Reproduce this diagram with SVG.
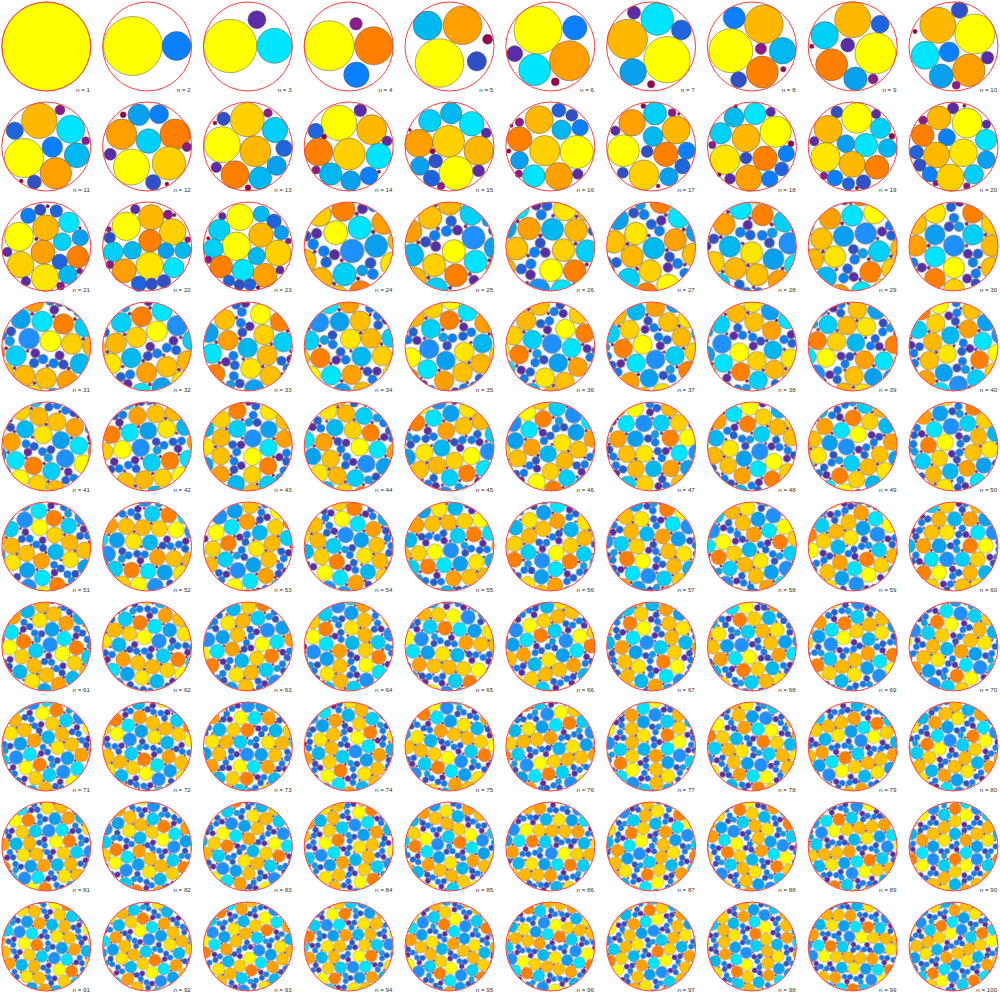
<svg xmlns="http://www.w3.org/2000/svg" xmlns:xlink="http://www.w3.org/1999/xlink" width="1000" height="1000" viewBox="0 0 1000 1000">
<style>
.y{fill:#ffff00}.yg{fill:#ffe600}.go{fill:#ffd000}.ga{fill:#ffb800}.or{fill:#ffa000}.do{fill:#ff8000}
.cy{fill:#00e5ff}.cs{fill:#00d0f8}.sk{fill:#00b8f0}.sb{fill:#0aa0f0}.bl{fill:#0a80ff}.rb{fill:#1e64dc}.ro{fill:#3050c8}.pu{fill:#5a2ca8}.pm{fill:#8b1a8b}.dm{fill:#990050}
.h circle{stroke:#555;stroke-width:.5}
.box{fill:none;stroke:#ff3b3b;stroke-width:1}
text{font-family:"Liberation Sans",Arial,sans-serif;font-size:6.2px;fill:#333;text-anchor:end}
</style>
<defs>
<g id="tile" stroke="#555" stroke-width=".05">
<circle cx="0" cy="0" r=".98" fill="#ffff00"/>
<circle cx="4" cy="0" r=".96" fill="#ffa000"/>
<circle cx="6" cy="0" r=".95" fill="#00e5ff"/>
<circle cx="1" cy="1.732" r=".97" fill="#ffd000"/>
<circle cx="3" cy="1.732" r=".94" fill="#00b8f0"/>
<circle cx="7" cy="1.732" r=".95" fill="#ff8000"/>
<circle cx="0" cy="3.464" r=".95" fill="#00d0f8"/>
<circle cx="2" cy="3.464" r=".97" fill="#ffb800"/>
<circle cx="4" cy="3.464" r=".98" fill="#ffe600"/>
<circle cx="3" cy="5.196" r=".98" fill="#ffc000"/>
<circle cx="5" cy="5.196" r=".93" fill="#0aa0f0"/>
<circle cx="7" cy="5.196" r=".96" fill="#1e90ff"/>
<circle cx="2" cy="-.53" r=".44" fill="#0a80ff"/>
<circle cx="2.459" cy=".265" r=".44" fill="#3050c8"/>
<circle cx="1.541" cy=".265" r=".42" fill="#5a2ca8"/>
<circle cx="5" cy="2.262" r=".44" fill="#1e64dc"/>
<circle cx="4.541" cy="1.467" r=".44" fill="#0a80ff"/>
<circle cx="5.459" cy="1.467" r=".42" fill="#5a2ca8"/>
<circle cx="6.53" cy="3.464" r=".44" fill="#0aa0f0"/>
<circle cx="5.735" cy="3.923" r=".44" fill="#3050c8"/>
<circle cx="5.735" cy="3.005" r=".44" fill="#0a80ff"/>
<circle cx="1.265" cy="5.655" r=".44" fill="#0a80ff"/>
<circle cx=".47" cy="5.196" r=".42" fill="#5a2ca8"/>
<circle cx="1.265" cy="4.737" r=".44" fill="#1e64dc"/>
<circle cx="3" cy=".577" r=".15" fill="#990050"/>
<circle cx="6" cy="1.155" r=".15" fill="#8b1a8b"/>
<circle cx="1" cy="2.887" r=".14" fill="#990050"/>
<circle cx="4" cy="2.309" r=".14" fill="#8b1a8b"/>
<circle cx="7" cy="2.887" r=".15" fill="#990050"/>
<circle cx="3" cy="4.041" r=".14" fill="#990050"/>
<circle cx="2" cy="5.773" r=".14" fill="#8b1a8b"/>
<circle cx="5" cy="6.351" r=".15" fill="#990050"/>
<circle cx="0" cy="4.619" r=".14" fill="#8b1a8b"/>
</g>
<pattern id="tp" patternUnits="userSpaceOnUse" width="8" height="6.928">
<use xlink:href="#tile" x="-8" y="-6.928"/><use xlink:href="#tile" x="0" y="-6.928"/><use xlink:href="#tile" x="8" y="-6.928"/>
<use xlink:href="#tile" x="-8" y="0"/><use xlink:href="#tile" x="0" y="0"/><use xlink:href="#tile" x="8" y="0"/>
<use xlink:href="#tile" x="-8" y="6.928"/><use xlink:href="#tile" x="0" y="6.928"/><use xlink:href="#tile" x="8" y="6.928"/>
</pattern>
<rect id="tex" x="-12" y="-12" width="32" height="32" fill="url(#tp)"/>
<clipPath id="disk"><circle r="44.2"/></clipPath>
</defs>
<rect width="1000" height="1000" fill="#fff"/>

<g id="n1" transform="translate(46.3,46.5)"><g class="h"><circle class="y" r="44.4"/></g><circle class="box" r="44.5"/><text x="43.7" y="45.2">n = 1</text></g>
<g id="n2" transform="translate(147.1,46.5)"><g class="h"><circle class="y" cx="-14.2" cy="-0.5" r="29.5"/><circle class="bl" cx="29.5" cy="-0.5" r="14.5"/></g><circle class="box" r="44.5"/><text x="43.7" y="45.2">n = 2</text></g>
<g id="n3" transform="translate(247.9,46.5)"><g class="h"><circle class="y" cx="-17.7" cy="-0.5" r="26.7"/><circle class="cy" cx="26.6" cy="-0.7" r="17.5"/><circle class="pu" cx="9" cy="-26.8" r="9"/></g><circle class="box" r="44.5"/><text x="43.7" y="45.2">n = 3</text></g>
<g id="n4" transform="translate(348.7,46.5)"><g class="h"><circle class="y" cx="-19.5" cy="-0.7" r="25"/><circle class="do" cx="25" cy="-0.7" r="19"/><circle class="bl" cx="7.7" cy="28.2" r="12.7"/><circle class="pm" cx="7.3" cy="-22.8" r="6.3"/></g><circle class="box" r="44.5"/><text x="43.7" y="45.2">n = 4</text></g>
<g id="n5" transform="translate(449.5,46.5)"><g class="h"><circle class="sk" cx="-21.9" cy="-21" r="14.5"/><circle class="or" cx="13" cy="-21.2" r="19.3"/><circle class="y" cx="-10" cy="16.5" r="24.3"/><circle class="ro" cx="27.3" cy="14.8" r="9.7"/><circle class="dm" cx="38.1" cy="-7.2" r="5"/></g><circle class="box" r="44.5"/><text x="43.7" y="45.2">n = 5</text></g>
<g id="n6" transform="translate(550.3,46.5)"><g class="h"><circle class="y" cx="-12.3" cy="-16.5" r="24"/><circle class="bl" cx="24.5" cy="-18.7" r="12.2"/><circle class="pu" cx="-35.6" cy="7.2" r="8"/><circle class="cy" cx="-15.6" cy="23.2" r="16"/><circle class="or" cx="19.2" cy="14.2" r="20"/><circle class="dm" cx="5" cy="35.3" r="4"/></g><circle class="box" r="44.5"/><text x="43.7" y="45.2">n = 6</text></g>
<g id="n7" transform="translate(651.1,46.5)"><g class="h"><circle class="pu" cx="-17.1" cy="-33.8" r="6.6"/><circle class="cy" cx="6.2" cy="-27.5" r="16.4"/><circle class="rb" cx="30.2" cy="-16.5" r="10"/><circle class="ga" cx="-23.6" cy="-7.3" r="20"/><circle class="y" cx="16" cy="13.2" r="23.2"/><circle class="sb" cx="-18" cy="25.5" r="13.3"/><circle class="dm" cx="0" cy="37.8" r="3.7"/></g><circle class="box" r="44.5"/><text x="43.7" y="45.2">n = 7</text></g>
<g id="n8" transform="translate(751.9,46.5)"><g class="h"><circle class="bl" cx="-17.6" cy="-28.8" r="11"/><circle class="ga" cx="12" cy="-22.2" r="19.3"/><circle class="y" cx="-21" cy="4.2" r="22"/><circle class="pm" cx="9" cy="2.2" r="5.7"/><circle class="sk" cx="30.7" cy="4.2" r="13.3"/><circle class="do" cx="10.4" cy="25.5" r="16"/><circle class="ro" cx="-13.3" cy="33.2" r="8"/><circle class="dm" cx="31.4" cy="22.8" r="2.7"/></g><circle class="box" r="44.5"/><text x="43.7" y="45.2">n = 8</text></g>
<g id="n9" transform="translate(852.7,46.5)"><g class="h"><circle class="ga" cx="0" cy="-26.8" r="18"/><circle class="rb" cx="27.4" cy="-22.3" r="9"/><circle class="cs" cx="-28" cy="-11.2" r="13.7"/><circle class="pu" cx="-5" cy="-1.5" r="7"/><circle class="y" cx="22.7" cy="6.8" r="20.5"/><circle class="dm" cx="-41" cy="-0.2" r="2.3"/><circle class="do" cx="-21" cy="18.2" r="16"/><circle class="sb" cx="2.7" cy="32.2" r="11.7"/><circle class="pm" cx="20.4" cy="32.5" r="5"/></g><circle class="box" r="44.5"/><text x="43.7" y="45.2">n = 9</text></g>
<g id="n10" transform="translate(953.5,46.5)"><g class="h"><circle class="ro" cx="6" cy="-36.5" r="8.3"/><circle class="ga" cx="-15.7" cy="-21.2" r="18"/><circle class="y" cx="21.3" cy="-12.5" r="20"/><circle class="dm" cx="-38.5" cy="-15" r="2.2"/><circle class="cy" cx="-28.3" cy="8.8" r="14"/><circle class="bl" cx="-4.3" cy="5.5" r="10"/><circle class="pu" cx="34" cy="11.2" r="6.3"/><circle class="sb" cx="-12.3" cy="29.5" r="12"/><circle class="or" cx="15.3" cy="23.8" r="16.3"/><circle class="pm" cx="2.7" cy="38.8" r="4"/></g><circle class="box" r="44.5"/><text x="43.7" y="45.2">n = 10</text></g>

<g id="n11" transform="translate(46.3,146.5)"><g class="h"><circle class="pm" cx="13.7" cy="-36.5" r="5"/><circle class="ga" cx="-7" cy="-25.7" r="17.7"/><circle class="rb" cx="-31.6" cy="-15.8" r="8.7"/><circle class="cy" cx="24.4" cy="-17.2" r="14"/><circle class="pm" cx="39.4" cy="-5.8" r="4"/><circle class="y" cx="-22.3" cy="11.5" r="19.5"/><circle class="bl" cx="6" cy="0.5" r="10.3"/><circle class="sk" cx="30.5" cy="8.7" r="12.5"/><circle class="or" cx="9.5" cy="26.7" r="15.8"/><circle class="ro" cx="-12" cy="35.5" r="7"/><circle class="dm" cx="-25" cy="34.5" r="2"/></g><circle class="box" r="44.5"/><text x="43.7" y="45.2">n = 11</text></g>
<g id="n12" transform="translate(147.1,146.5)"><g class="h"><circle class="dm" cx="-23.9" cy="-31.8" r="3"/><circle class="sb" cx="-8.4" cy="-31.7" r="10.8"/><circle class="bl" cx="11.9" cy="-32.3" r="9.5"/><circle class="or" cx="-25.6" cy="-12.2" r="15.3"/><circle class="do" cx="28.1" cy="-12.2" r="15.3"/><circle class="cs" cx="1.4" cy="-5.5" r="12.3"/><circle class="pm" cx="39.8" cy="0.5" r="4.7"/><circle class="pu" cx="-36.9" cy="7.8" r="6"/><circle class="y" cx="-15.6" cy="20.5" r="18"/><circle class="go" cx="21.8" cy="16.8" r="16.7"/><circle class="ro" cx="6.1" cy="35.8" r="7.7"/><circle class="dm" cx="19.8" cy="37.5" r="2"/></g><circle class="box" r="44.5"/><text x="43.7" y="45.2">n = 12</text></g>
<g id="n13" transform="translate(247.9,146.5)"><g class="h"><circle class="ro" cx="-24.3" cy="-27.8" r="6.7"/><circle class="dm" cx="-32.9" cy="-23.5" r="2"/><circle class="go" cx="-0.6" cy="-26.8" r="17"/><circle class="pm" cx="20.1" cy="-33.5" r="4.3"/><circle class="cs" cx="27.1" cy="-16.5" r="12.7"/><circle class="y" cx="-25.6" cy="-1.8" r="18"/><circle class="ga" cx="7.4" cy="4.8" r="15.5"/><circle class="rb" cx="36.1" cy="1.8" r="8.3"/><circle class="pu" cx="-31.6" cy="20.8" r="5.3"/><circle class="do" cx="-12.9" cy="28.2" r="14"/><circle class="sb" cx="28.7" cy="19.2" r="9.7"/><circle class="sk" cx="12.4" cy="31.5" r="11.3"/><circle class="dm" cx="0.1" cy="41.2" r="3"/></g><circle class="box" r="44.5"/><text x="43.7" y="45.2">n = 13</text></g>
<g id="n14" transform="translate(348.7,146.5)"><g class="h"><circle class="y" cx="-9.7" cy="-23.5" r="17.7"/><circle class="pu" cx="11.6" cy="-36.2" r="6.3"/><circle class="ga" cx="23" cy="-16.8" r="15"/><circle class="rb" cx="-33" cy="-15.5" r="7.7"/><circle class="dm" cx="-24.7" cy="-9.8" r="2.7"/><circle class="pu" cx="38.3" cy="-5.5" r="5"/><circle class="do" cx="-30" cy="5.5" r="14"/><circle class="go" cx="0.6" cy="7.5" r="16"/><circle class="cy" cx="30" cy="9.5" r="12.7"/><circle class="pm" cx="-32.7" cy="23.5" r="4"/><circle class="sk" cx="-18" cy="27.5" r="11.3"/><circle class="sb" cx="2" cy="34.2" r="10"/><circle class="bl" cx="20.3" cy="29.2" r="9"/><circle class="dm" cx="30.3" cy="25.2" r="1.7"/></g><circle class="box" r="44.5"/><text x="43.7" y="45.2">n = 14</text></g>
<g id="n15" transform="translate(449.5,146.5)"><g class="h"><circle class="cs" cx="-19.6" cy="-25.8" r="11.3"/><circle class="sk" cx="1.7" cy="-33.2" r="10.7"/><circle class="cy" cx="22.1" cy="-22.8" r="12.3"/><circle class="dm" cx="-39.6" cy="-16.5" r="1.5"/><circle class="pu" cx="36.7" cy="-13.5" r="5"/><circle class="or" cx="-30.6" cy="-3.2" r="14"/><circle class="go" cx="-0.9" cy="-5.2" r="16"/><circle class="ga" cx="29.1" cy="4.2" r="14.7"/><circle class="dm" cx="-16.9" cy="4.8" r="2.7"/><circle class="ro" cx="-13.9" cy="14.5" r="7"/><circle class="sb" cx="-29.6" cy="19.5" r="9.3"/><circle class="rb" cx="-17.9" cy="31.8" r="8.3"/><circle class="y" cx="6.7" cy="26.5" r="17"/><circle class="pu" cx="29.1" cy="24.2" r="6"/><circle class="pm" cx="-8.5" cy="39.5" r="3.8"/></g><circle class="box" r="44.5"/><text x="43.7" y="45.2">n = 15</text></g>
<g id="n16" transform="translate(550.3,146.5)"><g class="h"><circle class="ga" cx="-11.2" cy="-26.8" r="14"/><circle class="rb" cx="8.5" cy="-36.2" r="7"/><circle class="ro" cx="21.5" cy="-31.2" r="6"/><circle class="pm" cx="-30.8" cy="-24.2" r="4.3"/><circle class="dm" cx="-38.8" cy="-20.8" r="1.7"/><circle class="sk" cx="11.2" cy="-16.8" r="9.7"/><circle class="bl" cx="29.8" cy="-18.8" r="8.3"/><circle class="do" cx="-30.8" cy="-7.5" r="12.3"/><circle class="go" cx="-5.5" cy="4.2" r="15.2"/><circle class="y" cx="26.5" cy="5.5" r="16.5"/><circle class="dm" cx="-41.5" cy="4.5" r="2.3"/><circle class="sb" cx="-30.8" cy="13.8" r="9"/><circle class="pm" cx="-31.5" cy="27.2" r="3.7"/><circle class="cy" cx="-16.5" cy="29.5" r="11.3"/><circle class="or" cx="8.5" cy="29.8" r="13.7"/><circle class="pu" cx="27.5" cy="27.5" r="5.3"/></g><circle class="box" r="44.5"/><text x="43.7" y="45.2">n = 16</text></g>
<g id="n17" transform="translate(651.1,146.5)"><g class="h"><circle class="dm" cx="-7.7" cy="-40.5" r="2.5"/><circle class="or" cx="-19" cy="-23.8" r="13.3"/><circle class="pu" cx="-35.7" cy="-15.8" r="4.7"/><circle class="y" cx="-27.7" cy="4.2" r="16"/><circle class="ro" cx="-28.3" cy="26.2" r="5.5"/><circle class="go" cx="-7.2" cy="28.5" r="15"/><circle class="dm" cx="7" cy="39.5" r="2"/><circle class="cs" cx="4" cy="-33" r="11.5"/><circle class="pm" cx="21" cy="-33.8" r="4"/><circle class="dm" cx="27.7" cy="-32.5" r="1.3"/><circle class="ga" cx="25" cy="-16.5" r="14"/><circle class="sk" cx="2" cy="-10" r="10"/><circle class="do" cx="14.7" cy="7.8" r="12.3"/><circle class="bl" cx="35.7" cy="4.2" r="8.7"/><circle class="rb" cx="31.3" cy="19.8" r="7.7"/><circle class="sb" cx="17.7" cy="30.2" r="9.3"/><circle class="ro" cx="-4" cy="5" r="6"/></g><circle class="box" r="44.5"/><text x="43.7" y="45.2">n = 17</text></g>
<g id="n18" transform="translate(751.9,146.5)"><g class="h"><circle class="dm" cx="-16.2" cy="-40.2" r="1.7"/><circle class="sk" cx="-17.9" cy="-29.2" r="10"/><circle class="cy" cx="3.1" cy="-32.8" r="11"/><circle class="pu" cx="18.8" cy="-34.5" r="4.7"/><circle class="cs" cx="-31.2" cy="-13.2" r="10.7"/><circle class="ga" cx="-5.9" cy="-8.5" r="14"/><circle class="y" cx="23.8" cy="-14.8" r="15.7"/><circle class="pm" cx="-39.6" cy="-1.5" r="3.7"/><circle class="dm" cx="39.1" cy="-2.8" r="3"/><circle class="yg" cx="-26.9" cy="13.2" r="15"/><circle class="ro" cx="-5.9" cy="11.5" r="6"/><circle class="do" cx="13.1" cy="11.8" r="12.3"/><circle class="bl" cx="34.4" cy="7.2" r="8.3"/><circle class="rb" cx="29.8" cy="22.5" r="7"/><circle class="dm" cx="-32.6" cy="28.2" r="2"/><circle class="pu" cx="-21.9" cy="32.2" r="5.3"/><circle class="or" cx="-3.2" cy="31.5" r="13.3"/><circle class="bl" cx="17.8" cy="32.5" r="8.3"/></g><circle class="box" r="44.5"/><text x="43.7" y="45.2">n = 18</text></g>
<g id="n19" transform="translate(852.7,146.5)"><g class="h"><circle class="ro" cx="-15.8" cy="-34.5" r="6"/><circle class="y" cx="4.2" cy="-28.5" r="15.3"/><circle class="pu" cx="23.5" cy="-32.5" r="4.7"/><circle class="ga" cx="-24.5" cy="-17.2" r="14"/><circle class="cs" cx="27.8" cy="-18.2" r="10.3"/><circle class="dm" cx="39.2" cy="-10.2" r="3"/><circle class="pu" cx="-38.5" cy="-5.2" r="4.7"/><circle class="sb" cx="-6.8" cy="-2.8" r="9"/><circle class="cy" cx="13.2" cy="-1.5" r="11.7"/><circle class="sk" cx="34.8" cy="1.5" r="9.3"/><circle class="yg" cx="-27.2" cy="10.8" r="14.7"/><circle class="ga" cx="-0.5" cy="17.8" r="13"/><circle class="do" cx="24.2" cy="20.8" r="12"/><circle class="pm" cx="-28.8" cy="29.2" r="3.7"/><circle class="bl" cx="-17.8" cy="31.5" r="8"/><circle class="rb" cx="-4.2" cy="37.2" r="6.3"/><circle class="ro" cx="10.8" cy="35.5" r="7.3"/><circle class="dm" cx="4.2" cy="41.5" r="1.8"/></g><circle class="box" r="44.5"/><text x="43.7" y="45.2">n = 19</text></g>
<g id="n20" transform="translate(953.5,146.5)"><g class="h"><circle class="pu" cx="-0.4" cy="-38.2" r="5.7"/><circle class="dm" cx="10.9" cy="-40.8" r="1.7"/><circle class="ga" cx="-14.4" cy="-28.5" r="12"/><circle class="pm" cx="-30.4" cy="-26.2" r="4.3"/><circle class="y" cx="13.6" cy="-23.5" r="15"/><circle class="pu" cx="32.9" cy="-22.2" r="4.3"/><circle class="do" cx="-30.7" cy="-11.2" r="11.3"/><circle class="bl" cx="-6.7" cy="-9.2" r="8.7"/><circle class="cy" cx="32.6" cy="-6.5" r="10.7"/><circle class="rb" cx="-37.1" cy="5.8" r="7"/><circle class="ga" cx="-17.1" cy="8.5" r="13"/><circle class="yg" cx="9.9" cy="6.2" r="14"/><circle class="sb" cx="32.9" cy="13.2" r="9"/><circle class="ro" cx="-33.7" cy="18.5" r="6.3"/><circle class="bl" cx="-23.7" cy="27.8" r="7.7"/><circle class="pm" cx="-17.7" cy="36.5" r="3"/><circle class="go" cx="-3.1" cy="31.2" r="13.7"/><circle class="cs" cx="20.3" cy="27.8" r="9.7"/><circle class="pm" cx="13.3" cy="39.5" r="3.3"/></g><circle class="box" r="44.5"/><text x="43.7" y="45.2">n = 20</text></g>

<g id="n21" transform="translate(46.3,246.5)"><g class="h"><circle class="bl" cx="-18" cy="-30.8" r="7.7"/><circle class="ro" cx="-6" cy="-36.8" r="5.7"/><circle class="dm" cx="1.4" cy="-40.2" r="1.7"/><circle class="rb" cx="10" cy="-35.5" r="6.3"/><circle class="cy" cx="22.7" cy="-24.2" r="10.3"/><circle class="ga" cx="-0.6" cy="-18.8" r="13"/><circle class="y" cx="-27.3" cy="-9.8" r="14.5"/><circle class="dm" cx="-10" cy="-7.5" r="1.7"/><circle class="dm" cx="33.7" cy="-18.5" r="1.3"/><circle class="cs" cx="16" cy="-4.8" r="9"/><circle class="sb" cx="34" cy="-8.8" r="8.3"/><circle class="or" cx="-3.3" cy="5.5" r="12"/><circle class="pu" cx="-39" cy="5.5" r="4.7"/><circle class="do" cx="31.4" cy="10.5" r="11"/><circle class="rb" cx="13.4" cy="15.2" r="7.7"/><circle class="go" cx="-25.6" cy="18.2" r="13.3"/><circle class="yg" cx="-1.3" cy="31.2" r="13.7"/><circle class="sk" cx="21.7" cy="28.2" r="9.3"/><circle class="pm" cx="33.4" cy="24.5" r="3"/><circle class="pu" cx="-20.3" cy="34.8" r="4.7"/><circle class="pm" cx="14.4" cy="39.5" r="4"/></g><circle class="box" r="44.5"/><text x="43.7" y="45.2">n = 21</text></g>
<g id="n22" transform="translate(147.1,246.5)"><g class="h"><circle class="pu" cx="-11.8" cy="-37.2" r="4.7"/><circle class="ga" cx="4.2" cy="-29.2" r="12.7"/><circle class="pm" cx="20.9" cy="-31.8" r="4.7"/><circle class="dm" cx="27.2" cy="-31.5" r="1.7"/><circle class="y" cx="-20.8" cy="-20.2" r="14.3"/><circle class="go" cx="25.6" cy="-14.5" r="13.3"/><circle class="do" cx="2.9" cy="-5.8" r="11.3"/><circle class="pm" cx="-38.4" cy="-17.2" r="2.7"/><circle class="ro" cx="-37.4" cy="-8.8" r="5.7"/><circle class="pm" cx="40.6" cy="-6.8" r="3"/><circle class="cs" cx="-33.8" cy="5.5" r="10"/><circle class="sk" cx="-14.8" cy="3.8" r="9"/><circle class="sb" cx="18.9" cy="4.2" r="8"/><circle class="sk" cx="35.9" cy="3.8" r="8.3"/><circle class="yg" cx="2.6" cy="19.2" r="13.7"/><circle class="pm" cx="-37.1" cy="18.2" r="4"/><circle class="or" cx="-22.8" cy="24.2" r="12"/><circle class="cy" cx="26.6" cy="21.2" r="10.3"/><circle class="rb" cx="-8.1" cy="37.2" r="7.7"/><circle class="ro" cx="4.6" cy="37.5" r="6"/><circle class="ro" cx="16.9" cy="34.8" r="6.7"/></g><circle class="box" r="44.5"/><text x="43.7" y="45.2">n = 22</text></g>
<g id="n23" transform="translate(247.9,246.5)"><g class="h"><circle class="pu" cx="-25.6" cy="-30.2" r="3.7"/><circle class="y" cx="-7.9" cy="-29.2" r="13.3"/><circle class="sk" cx="13.4" cy="-32.5" r="8"/><circle class="rb" cx="26.1" cy="-25.2" r="7.3"/><circle class="cs" cx="-28.6" cy="-16.5" r="10.7"/><circle class="ga" cx="13.1" cy="-11.5" r="12.3"/><circle class="sb" cx="33.4" cy="-13.8" r="7.3"/><circle class="pm" cx="40.4" cy="-5.5" r="3"/><circle class="dm" cx="-39.6" cy="-8.2" r="1.7"/><circle class="y" cx="-11.6" cy="-0.2" r="14.3"/><circle class="cs" cx="-34.6" cy="2.2" r="10"/><circle class="sk" cx="8.8" cy="9.5" r="8.7"/><circle class="go" cx="30.1" cy="6.5" r="13"/><circle class="pm" cx="-39.6" cy="13.2" r="3.7"/><circle class="do" cx="-26.6" cy="20.2" r="11.3"/><circle class="cy" cx="-4.9" cy="23.8" r="11"/><circle class="or" cx="17.1" cy="28.8" r="12"/><circle class="pu" cx="32.1" cy="23.5" r="4"/><circle class="rb" cx="-18.9" cy="34.2" r="5.8"/><circle class="ro" cx="-8.6" cy="38.2" r="5.3"/><circle class="rb" cx="2.1" cy="38" r="6"/><circle class="dm" cx="10.1" cy="41" r="2"/></g><circle class="box" r="44.5"/><text x="43.7" y="45.2">n = 23</text></g>

<g id="n24" transform="translate(348.7,246.5)"><g clip-path="url(#disk)"><use xlink:href="#tex" transform="rotate(168) scale(12.25) translate(-7.2,-5.61)"/></g><circle class="box" r="44.5"/><text x="43.7" y="45.2">n = 24</text></g>
<g id="n25" transform="translate(449.5,246.5)"><g clip-path="url(#disk)"><use xlink:href="#tex" transform="rotate(205) scale(12,-12) translate(-0.5,-6.71)"/></g><circle class="box" r="44.5"/><text x="43.7" y="45.2">n = 25</text></g>
<g id="n26" transform="translate(550.3,246.5)"><g clip-path="url(#disk)"><use xlink:href="#tex" transform="rotate(242) scale(11.77) translate(-1.8,-0.88)"/></g><circle class="box" r="44.5"/><text x="43.7" y="45.2">n = 26</text></g>
<g id="n27" transform="translate(651.1,246.5)"><g clip-path="url(#disk)"><use xlink:href="#tex" transform="rotate(279) scale(11.55,-11.55) translate(-3.1,-1.98)"/></g><circle class="box" r="44.5"/><text x="43.7" y="45.2">n = 27</text></g>
<g id="n28" transform="translate(751.9,246.5)"><g clip-path="url(#disk)"><use xlink:href="#tex" transform="rotate(316) scale(11.34) translate(-4.4,-3.08)"/></g><circle class="box" r="44.5"/><text x="43.7" y="45.2">n = 28</text></g>
<g id="n29" transform="translate(852.7,246.5)"><g clip-path="url(#disk)"><use xlink:href="#tex" transform="rotate(353) scale(11.14,-11.14) translate(-5.7,-4.18)"/></g><circle class="box" r="44.5"/><text x="43.7" y="45.2">n = 29</text></g>
<g id="n30" transform="translate(953.5,246.5)"><g clip-path="url(#disk)"><use xlink:href="#tex" transform="rotate(30) scale(10.95) translate(-7,-5.28)"/></g><circle class="box" r="44.5"/><text x="43.7" y="45.2">n = 30</text></g>

<g id="n31" transform="translate(46.3,346.5)"><g clip-path="url(#disk)"><use xlink:href="#tex" transform="rotate(67) scale(10.78,-10.78) translate(-0.3,-6.38)"/></g><circle class="box" r="44.5"/><text x="43.7" y="45.2">n = 31</text></g>
<g id="n32" transform="translate(147.1,346.5)"><g clip-path="url(#disk)"><use xlink:href="#tex" transform="rotate(104) scale(10.61) translate(-1.6,-0.55)"/></g><circle class="box" r="44.5"/><text x="43.7" y="45.2">n = 32</text></g>
<g id="n33" transform="translate(247.9,346.5)"><g clip-path="url(#disk)"><use xlink:href="#tex" transform="rotate(141) scale(10.44,-10.44) translate(-2.9,-1.65)"/></g><circle class="box" r="44.5"/><text x="43.7" y="45.2">n = 33</text></g>
<g id="n34" transform="translate(348.7,346.5)"><g clip-path="url(#disk)"><use xlink:href="#tex" transform="rotate(178) scale(10.29) translate(-4.2,-2.75)"/></g><circle class="box" r="44.5"/><text x="43.7" y="45.2">n = 34</text></g>
<g id="n35" transform="translate(449.5,346.5)"><g clip-path="url(#disk)"><use xlink:href="#tex" transform="rotate(215) scale(10.14,-10.14) translate(-5.5,-3.85)"/></g><circle class="box" r="44.5"/><text x="43.7" y="45.2">n = 35</text></g>
<g id="n36" transform="translate(550.3,346.5)"><g clip-path="url(#disk)"><use xlink:href="#tex" transform="rotate(252) scale(10) translate(-6.8,-4.95)"/></g><circle class="box" r="44.5"/><text x="43.7" y="45.2">n = 36</text></g>
<g id="n37" transform="translate(651.1,346.5)"><g clip-path="url(#disk)"><use xlink:href="#tex" transform="rotate(289) scale(9.86,-9.86) translate(-0.1,-6.05)"/></g><circle class="box" r="44.5"/><text x="43.7" y="45.2">n = 37</text></g>
<g id="n38" transform="translate(751.9,346.5)"><g clip-path="url(#disk)"><use xlink:href="#tex" transform="rotate(326) scale(9.73) translate(-1.4,-0.22)"/></g><circle class="box" r="44.5"/><text x="43.7" y="45.2">n = 38</text></g>
<g id="n39" transform="translate(852.7,346.5)"><g clip-path="url(#disk)"><use xlink:href="#tex" transform="rotate(3) scale(9.61,-9.61) translate(-2.7,-1.32)"/></g><circle class="box" r="44.5"/><text x="43.7" y="45.2">n = 39</text></g>
<g id="n40" transform="translate(953.5,346.5)"><g clip-path="url(#disk)"><use xlink:href="#tex" transform="rotate(40) scale(9.49) translate(-4,-2.42)"/></g><circle class="box" r="44.5"/><text x="43.7" y="45.2">n = 40</text></g>

<g id="n41" transform="translate(46.3,446.5)"><g clip-path="url(#disk)"><use xlink:href="#tex" transform="rotate(77) scale(9.37,-9.37) translate(-5.3,-3.52)"/></g><circle class="box" r="44.5"/><text x="43.7" y="45.2">n = 41</text></g>
<g id="n42" transform="translate(147.1,446.5)"><g clip-path="url(#disk)"><use xlink:href="#tex" transform="rotate(114) scale(9.26) translate(-6.6,-4.62)"/></g><circle class="box" r="44.5"/><text x="43.7" y="45.2">n = 42</text></g>
<g id="n43" transform="translate(247.9,446.5)"><g clip-path="url(#disk)"><use xlink:href="#tex" transform="rotate(151) scale(9.15,-9.15) translate(-7.9,-5.72)"/></g><circle class="box" r="44.5"/><text x="43.7" y="45.2">n = 43</text></g>
<g id="n44" transform="translate(348.7,446.5)"><g clip-path="url(#disk)"><use xlink:href="#tex" transform="rotate(188) scale(9.05) translate(-1.2,-6.82)"/></g><circle class="box" r="44.5"/><text x="43.7" y="45.2">n = 44</text></g>
<g id="n45" transform="translate(449.5,446.5)"><g clip-path="url(#disk)"><use xlink:href="#tex" transform="rotate(225) scale(8.94,-8.94) translate(-2.5,-0.99)"/></g><circle class="box" r="44.5"/><text x="43.7" y="45.2">n = 45</text></g>
<g id="n46" transform="translate(550.3,446.5)"><g clip-path="url(#disk)"><use xlink:href="#tex" transform="rotate(262) scale(8.85) translate(-3.8,-2.09)"/></g><circle class="box" r="44.5"/><text x="43.7" y="45.2">n = 46</text></g>
<g id="n47" transform="translate(651.1,446.5)"><g clip-path="url(#disk)"><use xlink:href="#tex" transform="rotate(299) scale(8.75,-8.75) translate(-5.1,-3.19)"/></g><circle class="box" r="44.5"/><text x="43.7" y="45.2">n = 47</text></g>
<g id="n48" transform="translate(751.9,446.5)"><g clip-path="url(#disk)"><use xlink:href="#tex" transform="rotate(336) scale(8.66) translate(-6.4,-4.29)"/></g><circle class="box" r="44.5"/><text x="43.7" y="45.2">n = 48</text></g>
<g id="n49" transform="translate(852.7,446.5)"><g clip-path="url(#disk)"><use xlink:href="#tex" transform="rotate(13) scale(8.57,-8.57) translate(-7.7,-5.39)"/></g><circle class="box" r="44.5"/><text x="43.7" y="45.2">n = 49</text></g>
<g id="n50" transform="translate(953.5,446.5)"><g clip-path="url(#disk)"><use xlink:href="#tex" transform="rotate(50) scale(8.49) translate(-1,-6.49)"/></g><circle class="box" r="44.5"/><text x="43.7" y="45.2">n = 50</text></g>

<g id="n51" transform="translate(46.3,546.5)"><g clip-path="url(#disk)"><use xlink:href="#tex" transform="rotate(87) scale(8.4,-8.4) translate(-2.3,-0.66)"/></g><circle class="box" r="44.5"/><text x="43.7" y="45.2">n = 51</text></g>
<g id="n52" transform="translate(147.1,546.5)"><g clip-path="url(#disk)"><use xlink:href="#tex" transform="rotate(124) scale(8.32) translate(-3.6,-1.76)"/></g><circle class="box" r="44.5"/><text x="43.7" y="45.2">n = 52</text></g>
<g id="n53" transform="translate(247.9,546.5)"><g clip-path="url(#disk)"><use xlink:href="#tex" transform="rotate(161) scale(8.24,-8.24) translate(-4.9,-2.86)"/></g><circle class="box" r="44.5"/><text x="43.7" y="45.2">n = 53</text></g>
<g id="n54" transform="translate(348.7,546.5)"><g clip-path="url(#disk)"><use xlink:href="#tex" transform="rotate(198) scale(8.16) translate(-6.2,-3.96)"/></g><circle class="box" r="44.5"/><text x="43.7" y="45.2">n = 54</text></g>
<g id="n55" transform="translate(449.5,546.5)"><g clip-path="url(#disk)"><use xlink:href="#tex" transform="rotate(235) scale(8.09,-8.09) translate(-7.5,-5.06)"/></g><circle class="box" r="44.5"/><text x="43.7" y="45.2">n = 55</text></g>
<g id="n56" transform="translate(550.3,546.5)"><g clip-path="url(#disk)"><use xlink:href="#tex" transform="rotate(272) scale(8.02) translate(-0.8,-6.16)"/></g><circle class="box" r="44.5"/><text x="43.7" y="45.2">n = 56</text></g>
<g id="n57" transform="translate(651.1,546.5)"><g clip-path="url(#disk)"><use xlink:href="#tex" transform="rotate(309) scale(7.95,-7.95) translate(-2.1,-0.33)"/></g><circle class="box" r="44.5"/><text x="43.7" y="45.2">n = 57</text></g>
<g id="n58" transform="translate(751.9,546.5)"><g clip-path="url(#disk)"><use xlink:href="#tex" transform="rotate(346) scale(7.88) translate(-3.4,-1.43)"/></g><circle class="box" r="44.5"/><text x="43.7" y="45.2">n = 58</text></g>
<g id="n59" transform="translate(852.7,546.5)"><g clip-path="url(#disk)"><use xlink:href="#tex" transform="rotate(23) scale(7.81,-7.81) translate(-4.7,-2.53)"/></g><circle class="box" r="44.5"/><text x="43.7" y="45.2">n = 59</text></g>
<g id="n60" transform="translate(953.5,546.5)"><g clip-path="url(#disk)"><use xlink:href="#tex" transform="rotate(60) scale(7.75) translate(-6,-3.63)"/></g><circle class="box" r="44.5"/><text x="43.7" y="45.2">n = 60</text></g>

<g id="n61" transform="translate(46.3,646.5)"><g clip-path="url(#disk)"><use xlink:href="#tex" transform="rotate(97) scale(7.68,-7.68) translate(-7.3,-4.73)"/></g><circle class="box" r="44.5"/><text x="43.7" y="45.2">n = 61</text></g>
<g id="n62" transform="translate(147.1,646.5)"><g clip-path="url(#disk)"><use xlink:href="#tex" transform="rotate(134) scale(7.62) translate(-0.6,-5.83)"/></g><circle class="box" r="44.5"/><text x="43.7" y="45.2">n = 62</text></g>
<g id="n63" transform="translate(247.9,646.5)"><g clip-path="url(#disk)"><use xlink:href="#tex" transform="rotate(171) scale(7.56,-7.56) translate(-1.9,0)"/></g><circle class="box" r="44.5"/><text x="43.7" y="45.2">n = 63</text></g>
<g id="n64" transform="translate(348.7,646.5)"><g clip-path="url(#disk)"><use xlink:href="#tex" transform="rotate(208) scale(7.5) translate(-3.2,-1.1)"/></g><circle class="box" r="44.5"/><text x="43.7" y="45.2">n = 64</text></g>
<g id="n65" transform="translate(449.5,646.5)"><g clip-path="url(#disk)"><use xlink:href="#tex" transform="rotate(245) scale(7.44,-7.44) translate(-4.5,-2.2)"/></g><circle class="box" r="44.5"/><text x="43.7" y="45.2">n = 65</text></g>
<g id="n66" transform="translate(550.3,646.5)"><g clip-path="url(#disk)"><use xlink:href="#tex" transform="rotate(282) scale(7.39) translate(-5.8,-3.3)"/></g><circle class="box" r="44.5"/><text x="43.7" y="45.2">n = 66</text></g>
<g id="n67" transform="translate(651.1,646.5)"><g clip-path="url(#disk)"><use xlink:href="#tex" transform="rotate(319) scale(7.33,-7.33) translate(-7.1,-4.4)"/></g><circle class="box" r="44.5"/><text x="43.7" y="45.2">n = 67</text></g>
<g id="n68" transform="translate(751.9,646.5)"><g clip-path="url(#disk)"><use xlink:href="#tex" transform="rotate(356) scale(7.28) translate(-0.4,-5.5)"/></g><circle class="box" r="44.5"/><text x="43.7" y="45.2">n = 68</text></g>
<g id="n69" transform="translate(852.7,646.5)"><g clip-path="url(#disk)"><use xlink:href="#tex" transform="rotate(33) scale(7.22,-7.22) translate(-1.7,-6.6)"/></g><circle class="box" r="44.5"/><text x="43.7" y="45.2">n = 69</text></g>
<g id="n70" transform="translate(953.5,646.5)"><g clip-path="url(#disk)"><use xlink:href="#tex" transform="rotate(70) scale(7.17) translate(-3,-0.77)"/></g><circle class="box" r="44.5"/><text x="43.7" y="45.2">n = 70</text></g>

<g id="n71" transform="translate(46.3,746.5)"><g clip-path="url(#disk)"><use xlink:href="#tex" transform="rotate(107) scale(7.12,-7.12) translate(-4.3,-1.87)"/></g><circle class="box" r="44.5"/><text x="43.7" y="45.2">n = 71</text></g>
<g id="n72" transform="translate(147.1,746.5)"><g clip-path="url(#disk)"><use xlink:href="#tex" transform="rotate(144) scale(7.07) translate(-5.6,-2.97)"/></g><circle class="box" r="44.5"/><text x="43.7" y="45.2">n = 72</text></g>
<g id="n73" transform="translate(247.9,746.5)"><g clip-path="url(#disk)"><use xlink:href="#tex" transform="rotate(181) scale(7.02,-7.02) translate(-6.9,-4.07)"/></g><circle class="box" r="44.5"/><text x="43.7" y="45.2">n = 73</text></g>
<g id="n74" transform="translate(348.7,746.5)"><g clip-path="url(#disk)"><use xlink:href="#tex" transform="rotate(218) scale(6.98) translate(-0.2,-5.17)"/></g><circle class="box" r="44.5"/><text x="43.7" y="45.2">n = 74</text></g>
<g id="n75" transform="translate(449.5,746.5)"><g clip-path="url(#disk)"><use xlink:href="#tex" transform="rotate(255) scale(6.93,-6.93) translate(-1.5,-6.27)"/></g><circle class="box" r="44.5"/><text x="43.7" y="45.2">n = 75</text></g>
<g id="n76" transform="translate(550.3,746.5)"><g clip-path="url(#disk)"><use xlink:href="#tex" transform="rotate(292) scale(6.88) translate(-2.8,-0.44)"/></g><circle class="box" r="44.5"/><text x="43.7" y="45.2">n = 76</text></g>
<g id="n77" transform="translate(651.1,746.5)"><g clip-path="url(#disk)"><use xlink:href="#tex" transform="rotate(329) scale(6.84,-6.84) translate(-4.1,-1.54)"/></g><circle class="box" r="44.5"/><text x="43.7" y="45.2">n = 77</text></g>
<g id="n78" transform="translate(751.9,746.5)"><g clip-path="url(#disk)"><use xlink:href="#tex" transform="rotate(6) scale(6.79) translate(-5.4,-2.64)"/></g><circle class="box" r="44.5"/><text x="43.7" y="45.2">n = 78</text></g>
<g id="n79" transform="translate(852.7,746.5)"><g clip-path="url(#disk)"><use xlink:href="#tex" transform="rotate(43) scale(6.75,-6.75) translate(-6.7,-3.74)"/></g><circle class="box" r="44.5"/><text x="43.7" y="45.2">n = 79</text></g>
<g id="n80" transform="translate(953.5,746.5)"><g clip-path="url(#disk)"><use xlink:href="#tex" transform="rotate(80) scale(6.71) translate(0,-4.84)"/></g><circle class="box" r="44.5"/><text x="43.7" y="45.2">n = 80</text></g>

<g id="n81" transform="translate(46.3,846.5)"><g clip-path="url(#disk)"><use xlink:href="#tex" transform="rotate(117) scale(6.67,-6.67) translate(-1.3,-5.94)"/></g><circle class="box" r="44.5"/><text x="43.7" y="45.2">n = 81</text></g>
<g id="n82" transform="translate(147.1,846.5)"><g clip-path="url(#disk)"><use xlink:href="#tex" transform="rotate(154) scale(6.63) translate(-2.6,-0.11)"/></g><circle class="box" r="44.5"/><text x="43.7" y="45.2">n = 82</text></g>
<g id="n83" transform="translate(247.9,846.5)"><g clip-path="url(#disk)"><use xlink:href="#tex" transform="rotate(191) scale(6.59,-6.59) translate(-3.9,-1.21)"/></g><circle class="box" r="44.5"/><text x="43.7" y="45.2">n = 83</text></g>
<g id="n84" transform="translate(348.7,846.5)"><g clip-path="url(#disk)"><use xlink:href="#tex" transform="rotate(228) scale(6.55) translate(-5.2,-2.31)"/></g><circle class="box" r="44.5"/><text x="43.7" y="45.2">n = 84</text></g>
<g id="n85" transform="translate(449.5,846.5)"><g clip-path="url(#disk)"><use xlink:href="#tex" transform="rotate(265) scale(6.51,-6.51) translate(-6.5,-3.41)"/></g><circle class="box" r="44.5"/><text x="43.7" y="45.2">n = 85</text></g>
<g id="n86" transform="translate(550.3,846.5)"><g clip-path="url(#disk)"><use xlink:href="#tex" transform="rotate(302) scale(6.47) translate(-7.8,-4.51)"/></g><circle class="box" r="44.5"/><text x="43.7" y="45.2">n = 86</text></g>
<g id="n87" transform="translate(651.1,846.5)"><g clip-path="url(#disk)"><use xlink:href="#tex" transform="rotate(339) scale(6.43,-6.43) translate(-1.1,-5.61)"/></g><circle class="box" r="44.5"/><text x="43.7" y="45.2">n = 87</text></g>
<g id="n88" transform="translate(751.9,846.5)"><g clip-path="url(#disk)"><use xlink:href="#tex" transform="rotate(16) scale(6.4) translate(-2.4,-6.71)"/></g><circle class="box" r="44.5"/><text x="43.7" y="45.2">n = 88</text></g>
<g id="n89" transform="translate(852.7,846.5)"><g clip-path="url(#disk)"><use xlink:href="#tex" transform="rotate(53) scale(6.36,-6.36) translate(-3.7,-0.88)"/></g><circle class="box" r="44.5"/><text x="43.7" y="45.2">n = 89</text></g>
<g id="n90" transform="translate(953.5,846.5)"><g clip-path="url(#disk)"><use xlink:href="#tex" transform="rotate(90) scale(6.32) translate(-5,-1.98)"/></g><circle class="box" r="44.5"/><text x="43.7" y="45.2">n = 90</text></g>

<g id="n91" transform="translate(46.3,946.5)"><g clip-path="url(#disk)"><use xlink:href="#tex" transform="rotate(127) scale(6.29,-6.29) translate(-6.3,-3.08)"/></g><circle class="box" r="44.5"/><text x="43.7" y="45.2">n = 91</text></g>
<g id="n92" transform="translate(147.1,946.5)"><g clip-path="url(#disk)"><use xlink:href="#tex" transform="rotate(164) scale(6.26) translate(-7.6,-4.18)"/></g><circle class="box" r="44.5"/><text x="43.7" y="45.2">n = 92</text></g>
<g id="n93" transform="translate(247.9,946.5)"><g clip-path="url(#disk)"><use xlink:href="#tex" transform="rotate(201) scale(6.22,-6.22) translate(-0.9,-5.28)"/></g><circle class="box" r="44.5"/><text x="43.7" y="45.2">n = 93</text></g>
<g id="n94" transform="translate(348.7,946.5)"><g clip-path="url(#disk)"><use xlink:href="#tex" transform="rotate(238) scale(6.19) translate(-2.2,-6.38)"/></g><circle class="box" r="44.5"/><text x="43.7" y="45.2">n = 94</text></g>
<g id="n95" transform="translate(449.5,946.5)"><g clip-path="url(#disk)"><use xlink:href="#tex" transform="rotate(275) scale(6.16,-6.16) translate(-3.5,-0.55)"/></g><circle class="box" r="44.5"/><text x="43.7" y="45.2">n = 95</text></g>
<g id="n96" transform="translate(550.3,946.5)"><g clip-path="url(#disk)"><use xlink:href="#tex" transform="rotate(312) scale(6.12) translate(-4.8,-1.65)"/></g><circle class="box" r="44.5"/><text x="43.7" y="45.2">n = 96</text></g>
<g id="n97" transform="translate(651.1,946.5)"><g clip-path="url(#disk)"><use xlink:href="#tex" transform="rotate(349) scale(6.09,-6.09) translate(-6.1,-2.75)"/></g><circle class="box" r="44.5"/><text x="43.7" y="45.2">n = 97</text></g>
<g id="n98" transform="translate(751.9,946.5)"><g clip-path="url(#disk)"><use xlink:href="#tex" transform="rotate(26) scale(6.06) translate(-7.4,-3.85)"/></g><circle class="box" r="44.5"/><text x="43.7" y="45.2">n = 98</text></g>
<g id="n99" transform="translate(852.7,946.5)"><g clip-path="url(#disk)"><use xlink:href="#tex" transform="rotate(63) scale(6.03,-6.03) translate(-0.7,-4.95)"/></g><circle class="box" r="44.5"/><text x="43.7" y="45.2">n = 99</text></g>
<g id="n100" transform="translate(953.5,946.5)"><g clip-path="url(#disk)"><use xlink:href="#tex" transform="rotate(100) scale(6) translate(-2,-6.05)"/></g><circle class="box" r="44.5"/><text x="43.7" y="45.2">n = 100</text></g>
</svg>
